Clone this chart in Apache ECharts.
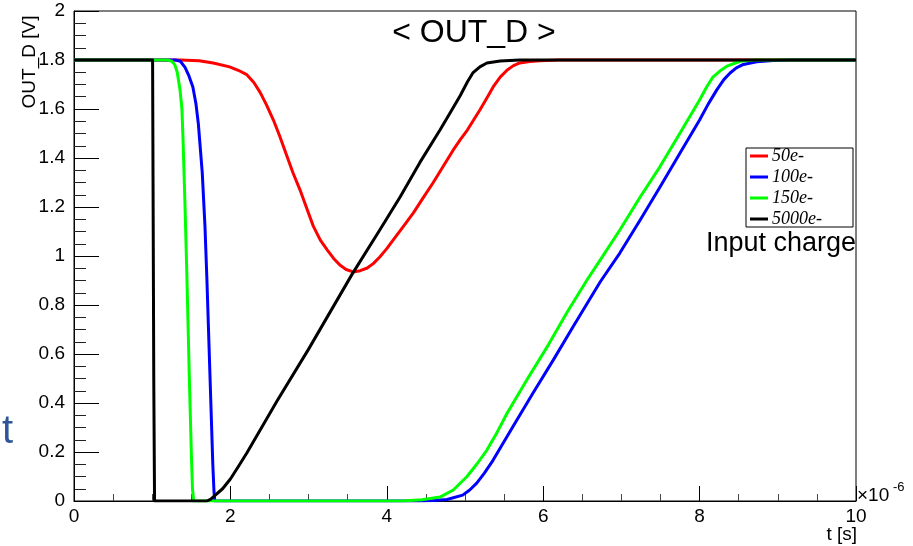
<!DOCTYPE html>
<html>
<head>
<meta charset="utf-8">
<title>OUT_D</title>
<script src="https://cdn.jsdelivr.net/npm/echarts@6/dist/echarts.min.js"></script>
<style>
  html, body { margin: 0; padding: 0; background: #fff; }
  #chart { width: 913px; height: 546px; }
</style>
</head>
<body>
<div id="chart"></div>
<script>
// Output voltage OUT_D versus time for four input charges.
// Time values are in microseconds (axis shows x10^-6 s), voltages in volts.

const seriesNames = ['50e-', '100e-', '150e-', '5000e-'];
const seriesColors = ['#ff0000', '#0000ff', '#00ff00', '#000000'];

const t50 = [0, 1.2, 1.36, 1.6, 1.78, 1.99, 2.1, 2.21, 2.3, 2.38, 2.46, 2.55, 2.63, 2.72, 2.8, 2.89, 2.97, 3.06,
  3.15, 3.24, 3.32, 3.4, 3.48, 3.57, 3.66, 3.75, 3.83, 3.91, 4.0, 4.08, 4.21, 4.34, 4.46, 4.59,
  4.72, 4.85, 4.94, 5.03, 5.11, 5.19, 5.28, 5.36, 5.45, 5.54, 5.62, 5.7, 5.83, 5.96, 6.2, 10];
const v50 = [1.8, 1.8, 1.8, 1.797, 1.788, 1.772, 1.758, 1.74, 1.708, 1.668, 1.618, 1.555, 1.49, 1.41, 1.34, 1.27, 1.2, 1.122,
  1.065, 1.024, 0.99, 0.963, 0.945, 0.935, 0.94, 0.951, 0.97, 0.996, 1.03, 1.065, 1.12, 1.176, 1.235, 1.298,
  1.365, 1.433, 1.475, 1.514, 1.555, 1.596, 1.645, 1.69, 1.73, 1.759, 1.777, 1.788, 1.794, 1.797, 1.8, 1.8];

const t100 = [0, 1.3, 1.36, 1.42, 1.47, 1.52, 1.56, 1.59, 1.64, 1.675, 1.7, 1.73, 1.755, 1.775, 1.79, 1.8,
  4.4, 4.6, 4.77, 4.97, 5.06, 5.15, 5.25, 5.36, 5.61, 5.87, 6.13, 6.38, 6.73, 6.98, 7.24, 7.49,
  7.75, 8.0, 8.11, 8.22, 8.31, 8.39, 8.47, 8.56, 8.73, 8.94, 9.2, 10];
const v100 = [1.8, 1.8, 1.795, 1.77, 1.735, 1.69, 1.62, 1.54, 1.34, 1.12, 0.9, 0.6, 0.35, 0.15, 0.04, 0,
  0, 0.002, 0.006, 0.024, 0.045, 0.073, 0.115, 0.167, 0.302, 0.441, 0.576, 0.71, 0.895, 1.012, 1.147, 1.28,
  1.42, 1.555, 1.62, 1.678, 1.72, 1.747, 1.768, 1.782, 1.793, 1.798, 1.8, 1.8];

const t150 = [0, 1.2, 1.25, 1.29, 1.32, 1.355, 1.38, 1.395, 1.42, 1.445, 1.475, 1.5, 1.515, 1.53,
  4.2, 4.45, 4.68, 4.85, 5.02, 5.15, 5.28, 5.41, 5.54, 5.79, 6.05, 6.3, 6.56, 6.73, 6.98, 7.24,
  7.49, 7.75, 8.0, 8.09, 8.17, 8.26, 8.35, 8.52, 8.7, 10];
const v150 = [1.8, 1.8, 1.795, 1.78, 1.75, 1.68, 1.6, 1.47, 1.2, 0.9, 0.5, 0.2, 0.05, 0,
  0, 0.005, 0.016, 0.045, 0.098, 0.15, 0.208, 0.28, 0.359, 0.494, 0.629, 0.767, 0.902, 0.984, 1.106, 1.241,
  1.363, 1.502, 1.637, 1.69, 1.73, 1.755, 1.775, 1.795, 1.8, 1.8];

const t5000 = [0, 1.005, 1.012, 1.02, 1.03, 1.7, 1.75, 1.8, 1.9, 2.0, 2.1, 2.21, 2.6, 3.0, 3.555, 3.91, 4.17,
  4.42, 4.68, 4.82, 4.94, 5.03, 5.1, 5.19, 5.28, 5.45, 5.7, 10];
const v5000 = [1.8, 1.8, 1.2, 0.5, 0, 0, 0.008, 0.022, 0.05, 0.09, 0.14, 0.196, 0.41, 0.62, 0.925, 1.106, 1.241,
  1.38, 1.514, 1.59, 1.655, 1.71, 1.747, 1.772, 1.788, 1.796, 1.8, 1.8];

const timeArrays = [t50, t100, t150, t5000];
const voltArrays = [v50, v100, v150, v5000];

const sansFont = '"Liberation Sans", Arial, Helvetica, sans-serif';
const serifFont = '"Liberation Serif", "Times New Roman", serif';

function zipPoints(ts, vs) {
  return ts.map((t, i) => [t, vs[i]]);
}

const series = seriesNames.map((name, i) => ({
  name: name,
  type: 'line',
  data: zipPoints(timeArrays[i], voltArrays[i]),
  showSymbol: false,
  symbol: 'none',
  smooth: false,
  color: seriesColors[i],
  lineStyle: { width: 3, color: seriesColors[i], join: 'round' },
  z: 2 + i
}));

const chart = echarts.init(document.getElementById('chart'), null, { renderer: 'canvas' });

chart.setOption({
  animation: false,
  backgroundColor: '#ffffff',
  grid: {
    left: 74, right: 57, top: 11, bottom: 45,
    show: true, borderColor: '#000', borderWidth: 1, backgroundColor: 'transparent'
  },
  xAxis: {
    type: 'value', min: 0, max: 10, interval: 2,
    axisLine: { show: true, lineStyle: { color: '#000', width: 1 } },
    axisTick: { show: true, inside: true, length: 15, lineStyle: { color: '#000' } },
    minorTick: { show: true, splitNumber: 4, length: 7, lineStyle: { color: '#444' } },
    splitLine: { show: false },
    axisLabel: { color: '#000', fontSize: 19, fontFamily: sansFont, margin: 6 }
  },
  yAxis: {
    type: 'value', min: 0, max: 2, interval: 0.2,
    axisLine: { show: true, lineStyle: { color: '#000', width: 1 } },
    axisTick: { show: true, inside: true, length: 25, lineStyle: { color: '#000' } },
    minorTick: { show: true, splitNumber: 4, length: 12, lineStyle: { color: '#222' } },
    splitLine: { show: false },
    axisLabel: { color: '#000', fontSize: 19, fontFamily: sansFont, margin: 9 }
  },
  legend: {
    show: true,
    orient: 'vertical',
    left: 750, top: 147,
    padding: 0,
    itemGap: 3,
    itemWidth: 18, itemHeight: 3,
    icon: 'rect',
    data: seriesNames,
    selectedMode: false,
    textStyle: { fontFamily: serifFont, fontStyle: 'italic', fontSize: 18, lineHeight: 17, color: '#000', padding: [0, 0, 0, -1] }
  },
  graphic: [
    { type: 'rect', shape: { x: 746, y: 148, width: 107, height: 79 },
      style: { fill: 'transparent', stroke: '#000', lineWidth: 1 }, z: 10 },
    { type: 'text', x: 474, y: 33,
      style: { text: '< OUT_D >', font: '32px ' + sansFont, fill: '#000', textAlign: 'center', textVerticalAlign: 'middle' }, z: 10 },
    { type: 'text', x: 706, y: 244,
      style: { text: 'Input charge', font: '27px ' + sansFont, fill: '#000', textAlign: 'left', textVerticalAlign: 'middle' }, z: 10 },
    { type: 'text', x: 30, y: 62, rotation: Math.PI / 2,
      style: { text: 'OUT_D [V]', font: '19px ' + sansFont, fill: '#000', textAlign: 'center', textVerticalAlign: 'middle' }, z: 10 },
    { type: 'text', x: 857, y: 535,
      style: { text: 't [s]', font: '19px ' + sansFont, fill: '#000', textAlign: 'right', textVerticalAlign: 'middle' }, z: 10 },
    { type: 'text', x: 857, y: 496,
      style: { text: '\u00d710', font: '19px ' + sansFont, fill: '#000', textAlign: 'left', textVerticalAlign: 'middle' }, z: 10 },
    { type: 'text', x: 893, y: 487,
      style: { text: '-6', font: '13px ' + sansFont, fill: '#000', textAlign: 'left', textVerticalAlign: 'middle' }, z: 10 },
    { type: 'text', x: 2, y: 432,
      style: { text: 't', font: '40px ' + sansFont, fill: '#2e5597', textAlign: 'left', textVerticalAlign: 'middle' }, z: 10 }
  ],
  series: series
});
</script>
</body>
</html>
